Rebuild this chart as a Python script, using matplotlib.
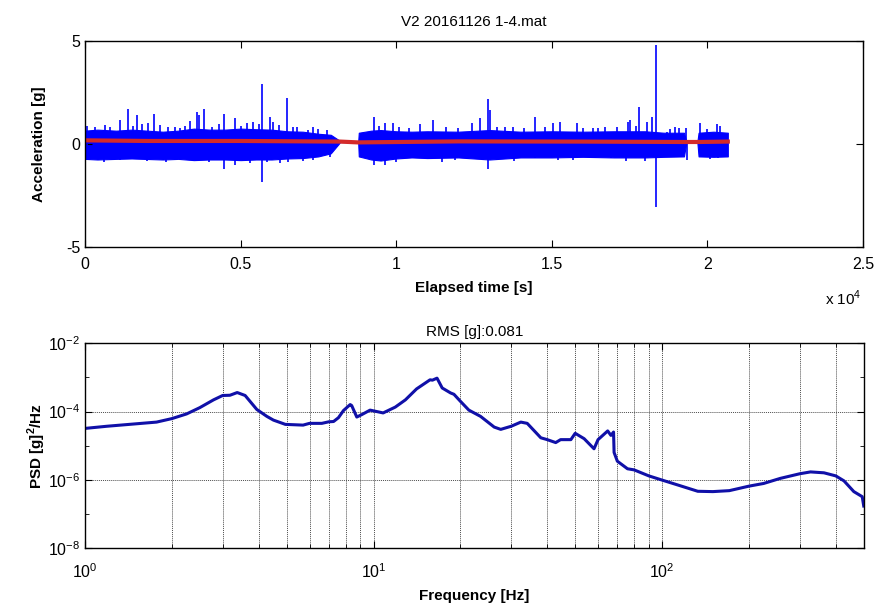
import numpy as np
import matplotlib
matplotlib.use("Agg")
import matplotlib.pyplot as plt
from matplotlib.ticker import FixedLocator, FuncFormatter, NullFormatter

plt.rcParams['font.family'] = ['Liberation Sans', 'DejaVu Sans']
plt.rcParams['mathtext.fontset'] = 'custom'
plt.rcParams['mathtext.rm'] = 'Liberation Sans'
plt.rcParams['mathtext.bf'] = 'Liberation Sans:bold'
plt.rcParams['axes.unicode_minus'] = False

# ---- time signal (seconds, g) ----
# base band envelope of the blue trace
env_t = [0, 400, 1000, 1500, 2500, 3000, 3500, 4000, 4500, 5000, 5500, 6000, 6500, 7000,
         7500, 7900, 8150, 8200, 8780, 8800, 9200, 9500, 10000, 10500, 11000, 12000, 13000,
         14000, 15000, 16000, 17000, 18000, 18600, 19250, 19330, 19680, 19720, 20200, 20660]
env_hi = [0.65, 0.7, 0.65, 0.7, 0.6, 0.65, 0.75, 0.7, 0.7, 0.75, 0.72, 0.7, 0.62, 0.6,
          0.5, 0.45, 0.2, 0.1, 0.1, 0.55, 0.65, 0.68, 0.62, 0.6, 0.62, 0.6, 0.68,
          0.6, 0.62, 0.6, 0.62, 0.62, 0.55, 0.55, 0.1, 0.1, 0.55, 0.6, 0.55]
env_lo = [-0.72, -0.75, -0.72, -0.7, -0.75, -0.72, -0.78, -0.75, -0.75, -0.78, -0.75, -0.75,
          -0.7, -0.68, -0.6, -0.45, 0.0, 0.1, 0.1, -0.6, -0.75, -0.8, -0.7, -0.65, -0.68,
          -0.65, -0.75, -0.65, -0.65, -0.62, -0.65, -0.65, -0.62, -0.6, 0.1, 0.1, -0.6,
          -0.62, -0.6]

# upward peaks
up_t = [50, 321, 643, 1125, 1370, 1660, 1843, 2035, 2217, 2410, 2678, 3053, 3374, 3600,
        3674, 3824, 4070, 4467, 4820, 5195, 5409, 5680, 5945, 6052, 6245, 6490, 6695,
        7177, 7337, 7766, 9290, 9640, 9907, 10765, 11193, 12425, 12693, 12940, 13015,
        13229, 13764, 14460, 15049, 15263, 15800, 16334, 16710, 17459, 17510, 17813,
        18050, 18210, 18340, 18692, 18959, 19312, 19762, 20300, 20405,
        800, 1550, 2900, 3200, 4300, 5000, 5600, 6800, 7500, 9450, 10100, 10400, 11600,
        12000, 13500, 14100, 14800, 16000, 16500, 17100, 17700, 18800, 19100, 20000]
up_v = [0.87, 0.84, 0.92, 1.16, 1.68, 1.41, 0.95, 1.0, 1.45, 0.92, 0.84, 0.76, 1.12, 1.54,
        1.41, 1.68, 0.84, 1.46, 1.25, 1.0, 1.08, 2.91, 1.33, 1.08, 0.92, 2.25, 0.84,
        0.68, 0.84, 0.68, 1.3, 1.0, 1.0, 0.95, 1.16, 1.0, 1.25, 2.18, 1.65,
        0.84, 0.84, 1.33, 1.04, 1.08, 1.0, 0.76, 0.84, 1.08, 1.15, 1.8,
        1.08, 1.33, 4.8, 0.6, 0.84, 0.76, 1.0, 0.95, 0.87,
        0.85, 0.9, 0.85, 0.9, 0.95, 0.9, 0.95, 0.85, 0.75, 0.9, 0.85, 0.8, 0.85,
        0.8, 0.85, 0.8, 0.85, 0.8, 0.8, 0.85, 0.9, 0.75, 0.8, 0.75]
# downward peaks
dn_t = [50, 1125, 1982, 3374, 4467, 4820, 5680, 5838, 6266, 6533, 7337, 7873, 9297,
        9640, 10550, 11462, 12960, 14460, 15691, 16900, 18340, 19334, 20351,
        600, 2600, 4000, 5300, 7000, 10000, 11900, 13800, 15200, 17400, 18000, 20100]
dn_v = [-0.78, -0.78, -0.81, -0.78, -1.23, -1.02, -1.83, -0.86, -0.91, -0.86, -0.78, -0.62, -1.02,
        -1.02, -0.69, -0.86, -1.23, -0.69, -0.78, -0.69, -3.04, -0.78, -0.69,
        -0.85, -0.85, -0.88, -0.9, -0.8, -0.85, -0.78, -0.8, -0.75, -0.8, -0.82, -0.72]

# running mean (red)
mean_t = [0, 2000, 5000, 8200, 8780, 12000, 16000, 19300, 19700, 20660]
mean_v = [0.18, 0.15, 0.15, 0.12, 0.08, 0.13, 0.12, 0.1, 0.1, 0.12]

# ---- PSD ----
freq = [1, 1.19, 1.77, 2.0, 2.25, 2.5, 2.79, 3.0, 3.18, 3.37, 3.59, 3.94, 4.27, 4.5, 4.95,
        5.7, 6.0, 6.62, 7.0, 7.27, 7.56, 7.87, 8.3, 8.4, 8.75, 9.1, 9.73, 10.8, 11.9, 12.9,
        14.1, 15.7, 16.0, 16.6, 17.3, 18.5, 19.0, 20, 21.4, 23.5, 26.2, 27.6, 30, 32.4,
        34.1, 38, 40, 42.8, 44.5, 48.3, 50, 53.7, 58.1, 60, 64.8, 66.5, 67.9, 68.2, 70,
        75.9, 80, 90, 100, 113, 133, 150, 171, 200, 225, 257, 300, 327, 364, 400, 427,
        462, 494, 500]
psd = [3.2e-5, 3.7e-5, 4.9e-5, 6.2e-5, 8.5e-5, 1.3e-4, 2.2e-4, 2.95e-4, 3.0e-4, 3.6e-4,
       2.95e-4, 1.15e-4, 7.2e-5, 5.6e-5, 4.2e-5, 4.0e-5, 4.5e-5, 4.5e-5, 5.0e-5, 5.1e-5,
       6.6e-5, 1.07e-4, 1.6e-4, 1.5e-4, 6.9e-5, 8.1e-5, 1.1e-4, 9.1e-5, 1.35e-4, 2.2e-4,
       4.6e-4, 8.5e-4, 8.3e-4, 9.5e-4, 4.9e-4, 3.5e-4, 3.2e-4, 2.0e-4, 1.1e-4, 7.2e-5,
       3.5e-5, 3.0e-5, 3.7e-5, 4.9e-5, 4.5e-5, 1.7e-5, 1.5e-5, 1.23e-5, 1.5e-5, 1.5e-5,
       2.3e-5, 1.6e-5, 8.1e-6, 1.5e-5, 2.7e-5, 2.0e-5, 2.5e-5, 6.3e-6, 3.5e-6, 2.1e-6,
       1.95e-6, 1.3e-6, 9.8e-7, 7.1e-7, 4.6e-7, 4.5e-7, 4.8e-7, 6.5e-7, 7.8e-7, 1.1e-6,
       1.5e-6, 1.7e-6, 1.6e-6, 1.3e-6, 9.3e-7, 4.5e-7, 3.2e-7, 1.7e-7]

fig = plt.figure(figsize=(8.76, 6.13), dpi=100)

# top: time history
ax1 = fig.add_axes([0.097, 0.597, 0.888, 0.336])
ax1.fill_between(env_t, env_lo, env_hi, color='#0000ff', lw=0.8, edgecolor='#0000ff')
ax1.vlines(up_t, 0, up_v, color='#0000ff', lw=1.2)
ax1.vlines(dn_t, 0, dn_v, color='#0000ff', lw=1.2)
ax1.plot(mean_t, mean_v, color='#d42a2a', lw=3)
ax1.set_xlim(0, 25000)
ax1.set_ylim(-5, 5)
ax1.set_xticks([0, 5000, 10000, 15000, 20000, 25000])
ax1.xaxis.set_major_formatter(FuncFormatter(lambda v, p: '%g' % (v / 1e4)))
ax1.set_yticks([-5, 0, 5])
ax1.set_title('V2 20161126 1-4.mat', fontsize=11, pad=11)
ax1.set_xlabel('Elapsed time [s]', fontsize=11, fontweight='bold', labelpad=7)
ax1.set_ylabel('Acceleration [g]', fontsize=11, fontweight='bold', labelpad=14)
ax1.tick_params(axis='x', pad=7)
fig.text(0.963, 0.503, r'x 10$^4$', fontsize=11, ha='center')

# bottom: PSD
ax2 = fig.add_axes([0.097, 0.106, 0.889, 0.334])
ax2.loglog(freq, psd, color='#1010a8', lw=2.2)
ax2.set_xlim(1, 500)
ax2.set_ylim(1e-8, 1e-2)
ax2.set_yticks([1e-8, 1e-6, 1e-4, 1e-2])
ax2.yaxis.set_minor_locator(FixedLocator([1e-7, 1e-5, 1e-3]))
ax2.yaxis.set_minor_formatter(NullFormatter())
ax2.xaxis.set_minor_formatter(NullFormatter())
ax2.grid(True, which='major', axis='both', color='0.3', ls=(0, (1, 1)), lw=0.7)
ax2.grid(True, which='minor', axis='x', color='0.3', ls=(0, (1, 1)), lw=0.7)
ax2.set_title('RMS [g]:0.081', fontsize=11, pad=5)
ax2.set_xlabel('Frequency [Hz]', fontsize=11, fontweight='bold', labelpad=6)
ax2.set_ylabel(r'PSD [g]$^\mathbf{2}$/Hz', fontsize=11, fontweight='bold', labelpad=0)
ax2.tick_params(axis='x', which='major', pad=10)

for ax in (ax1, ax2):
    ax.tick_params(which='both', direction='in', top=True, right=True, labelsize=11.5)
    ax.tick_params(which='major', length=5)
    ax.tick_params(which='minor', length=3)
    for s in ax.spines.values():
        s.set_linewidth(1.0)

fig.savefig('out.png', dpi=100)
